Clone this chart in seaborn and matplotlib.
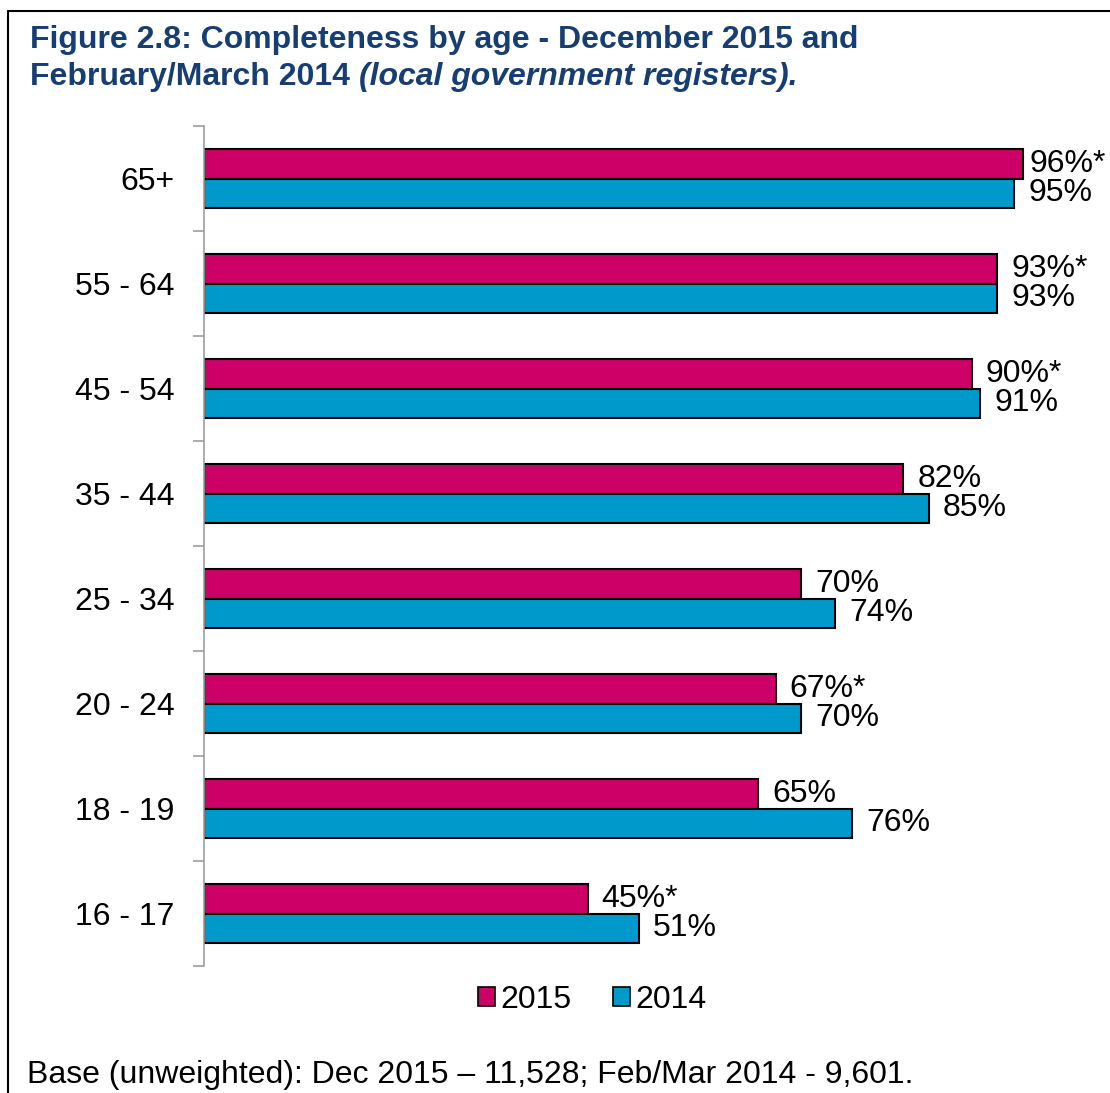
import matplotlib
matplotlib.use("Agg")
import matplotlib.pyplot as plt
from matplotlib.lines import Line2D
from matplotlib.patches import Patch
import seaborn as sns
import pandas as pd
import numpy as np

# ---- data ----
age_groups = ['65+', '55 - 64', '45 - 54', '35 - 44', '25 - 34', '20 - 24', '18 - 19', '16 - 17']
values_2015 = [96, 93, 90, 82, 70, 67, 65, 45]
values_2014 = [95, 93, 91, 85, 74, 70, 76, 51]
signif_2015 = [True, True, True, False, False, True, False, True]
series_names = ['2015', '2014']
series_colors = ['#CC0066', '#0099CC']

title_line1 = 'Figure 2.8: Completeness by age - December 2015 and'
title_line2a = 'February/March 2014 '
title_line2b = '(local government registers).'
footnote = 'Base (unweighted): Dec 2015 \u2013 11,528; Feb/Mar 2014 - 9,601.'

df = pd.DataFrame({
    'age': age_groups * 2,
    'value': values_2015 + values_2014,
    'year': [series_names[0]] * len(age_groups) + [series_names[1]] * len(age_groups),
})

sns.set_theme(style='white')
plt.rcParams['font.family'] = ['Liberation Sans', 'DejaVu Sans']

W, H = 1110, 1093
fig = plt.figure(figsize=(W / 100, H / 100), dpi=100)
ax = fig.add_axes([204 / W, 1 - 966 / H, (1057 - 204) / W, (966 - 126) / H])

sns.barplot(data=df, y='age', x='value', hue='year', order=age_groups,
            hue_order=series_names, palette=series_colors, orient='h',
            width=0.57, edgecolor='black', linewidth=1.5, ax=ax, legend=False,
            saturation=1)

ax.set_xlim(0, 100)
ax.set_ylim(len(age_groups) - 0.5, -0.5)
ax.set_xlabel('')
ax.set_ylabel('')
ax.set_xticks([])

# labels
lab15 = [f'{v}%' + ('*' if s else '') for v, s in zip(values_2015, signif_2015)]
lab14 = [f'{v}%' for v in values_2014]
lab15_main = [''] + lab15[1:]
lab15_first = [lab15[0]] + [''] * (len(lab15) - 1)
ax.bar_label(ax.containers[0], labels=lab15_main, padding=10, fontsize=23, color='black')
ax.bar_label(ax.containers[0], labels=lab15_first, padding=5, fontsize=23, color='black')
ax.bar_label(ax.containers[1], labels=lab14, padding=10, fontsize=23, color='black')

# spines / ticks
for s in ['top', 'right', 'bottom']:
    ax.spines[s].set_visible(False)
ax.spines['left'].set_color('#9E9E9E')
ax.spines['left'].set_linewidth(1.2)
ax.set_yticks(range(len(age_groups)))
ax.set_yticklabels(age_groups, fontsize=23, color='black')
ax.tick_params(axis='y', which='major', length=0, pad=21)
ax.set_yticks(np.arange(-0.5, len(age_groups), 1.0), minor=True)
ax.tick_params(axis='y', which='minor', length=8, width=1.2, color='#9E9E9E', left=True)

# legend
handles = [Patch(facecolor=c, edgecolor='black', linewidth=1.2) for c in series_colors]
fig.legend(handles, series_names, loc='center', bbox_to_anchor=(592 / W, 1 - 1000 / H),
           ncol=2, frameon=False, fontsize=23, handlelength=0.55, handleheight=0.55,
           handletextpad=0.15, columnspacing=1.3, labelcolor='black')

# title
navy = '#173E73'
fig.text(30 / W, 1 - 40 / H, title_line1, fontsize=23, fontweight='bold', color=navy,
         ha='left', va='center')
t2 = fig.text(30 / W, 1 - 77 / H, title_line2a, fontsize=23, fontweight='bold', color=navy,
              ha='left', va='center')
fig.canvas.draw()
bb = t2.get_window_extent()
fig.text(bb.x1 / W, 1 - 77 / H, title_line2b, fontsize=23, fontweight='bold',
         fontstyle='italic', color=navy, ha='left', va='center')

# footnote
fig.text(27 / W, 1 - 1075 / H, footnote, fontsize=23, color='black', ha='left', va='center')

# frame
fig.add_artist(Line2D([8 / W, 8 / W], [0, 1 - 11 / H], transform=fig.transFigure,
                      color='black', linewidth=1.5))
fig.add_artist(Line2D([8 / W, 1], [1 - 11 / H, 1 - 11 / H], transform=fig.transFigure,
                      color='black', linewidth=1.5))

fig.savefig('out.png', dpi=100)
